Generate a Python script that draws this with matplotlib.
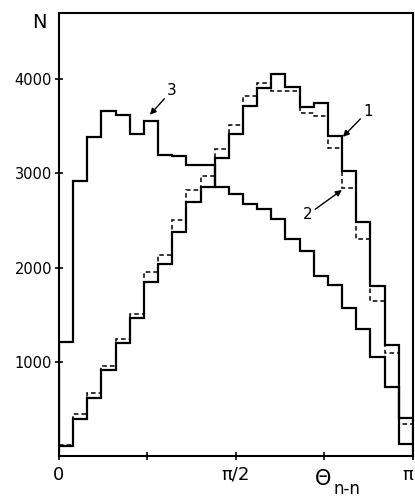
import numpy as np
import matplotlib.pyplot as plt

# 25 bins over [0, pi]
n_bins = 25
edges = np.linspace(0, np.pi, n_bins + 1)

# curve 1 (solid, rising), curve 2 (dashed), curve 3 (solid, falling)
curve1 = [106, 397, 617, 911, 1198, 1468, 1844, 2043, 2376, 2695,
          2854, 3166, 3415, 3716, 3907, 4053, 3918, 3705, 3740, 3394,
          3024, 2482, 1801, 1177, 400]
curve2 = [123, 447, 667, 957, 1240, 1511, 1950, 2128, 2500, 2819,
          2971, 3262, 3511, 3819, 3953, 3870, 3870, 3641, 3606, 3272,
          2847, 2304, 1641, 1099, 340]
curve3 = [1213, 2918, 3386, 3663, 3623, 3415, 3556, 3198, 3181, 3085,
          3085, 2854, 2780, 2670, 2623, 2511, 2298, 2175, 1907, 1815,
          1567, 1347, 1056, 737, 134]

yticks = [1000, 2000, 3000, 4000]
xticks = [0, np.pi / 4, np.pi / 2, 3 * np.pi / 4, np.pi]
xticklabels = ["0", "", "π/2", "", "π"]

fig = plt.figure(figsize=(4.15, 4.98), dpi=100)
ax = fig.add_axes([0.142, 0.084, 0.853, 0.890])

ax.stairs(curve2, edges, color="black", lw=1.1, ls=(0, (3, 2)), baseline=None)
ax.stairs(curve1, edges, color="black", lw=1.6, baseline=None)
ax.stairs(curve3, edges, color="black", lw=1.6, baseline=None)
# closing vertical edges down to the axis
ax.vlines([edges[0], edges[-1]], 0, [max(curve1[0], curve3[0]), max(curve1[-1], curve2[-1])],
          color="black", lw=1.6)

ax.set_xlim(0, np.pi)
ax.set_ylim(0, 4700)
ax.set_xticks(xticks)
ax.set_xticklabels(xticklabels, fontsize=13)
ax.get_xticklabels()[-1].set_ha("right")
ax.set_yticks(yticks)
ax.set_yticklabels([str(v) for v in yticks], fontsize=10.5)
ax.tick_params(direction="inout", length=6, width=1.2, pad=2)
ax.tick_params(axis="x", pad=4)
for s in ax.spines.values():
    s.set_linewidth(1.5)

ax.text(-0.035, 1.0, "N", transform=ax.transAxes, ha="right", va="top", fontsize=14)
ax.text(0.77, -0.03, "Θ", transform=ax.transAxes, ha="right", va="top", fontsize=15)
ax.text(0.775, -0.053, "n-n", transform=ax.transAxes, ha="left", va="top", fontsize=12)

arrow = dict(arrowstyle="-|>", color="black", lw=1.0, mutation_scale=9,
             shrinkA=0, shrinkB=0)
ax.annotate("3", xy=(0.8076, 3620), xytext=(0.96, 3800), fontsize=11,
            ha="left", va="bottom", arrowprops=arrow)
ax.annotate("1", xy=(2.52, 3386), xytext=(2.70, 3580), fontsize=11,
            ha="left", va="bottom", arrowprops=arrow)
ax.annotate("2", xy=(2.511, 2822), xytext=(2.25, 2640), fontsize=11,
            ha="right", va="top", arrowprops=arrow)

fig.savefig("out.png", dpi=100)
